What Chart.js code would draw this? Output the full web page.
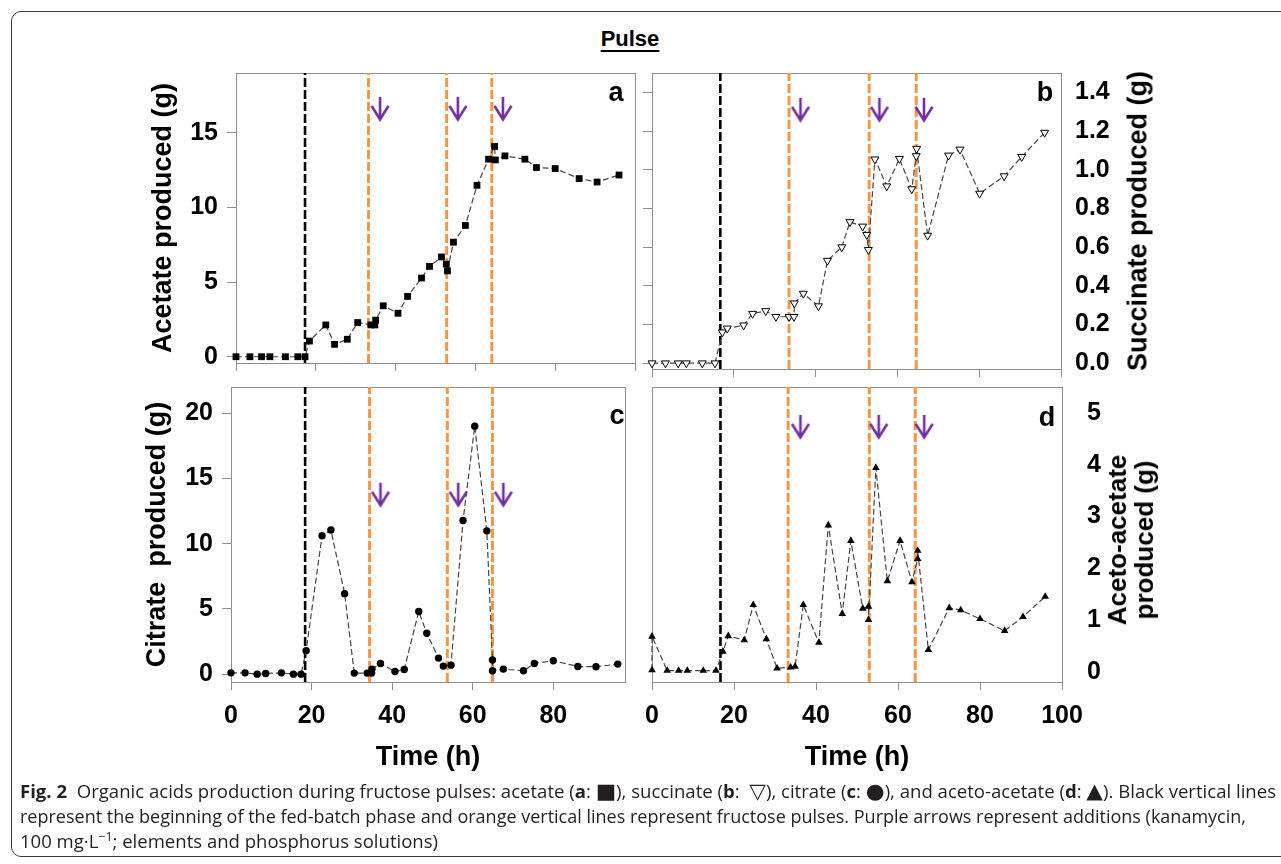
<!DOCTYPE html>
<html>
<head>
<meta charset="utf-8">
<script src="https://cdn.jsdelivr.net/npm/chart.js@4.4.1/dist/chart.umd.min.js"></script>
<style>
  body { margin: 0; width: 1281px; height: 864px; background: #fff; position: relative; overflow: hidden;
         font-family: 'Liberation Sans', Arial, sans-serif; color: #000; }
  canvas { position: absolute; }
  .box { position: absolute; left: 11px; top: 11px; width: 1400px; height: 844px;
         border: 1px solid #3c3c3c; border-radius: 10px; }
  .pulse { position: absolute; left: 580px; width: 100px; top: 28px; text-align: center;
           font-size: 22px; line-height: 22px; font-weight: bold;
           text-decoration: underline; text-decoration-thickness: 2px; text-underline-offset: 4px; }
  .letter { position: absolute; width: 40px; text-align: center; font-size: 27px; line-height: 27px; font-weight: bold; }
  .rtitle { position: absolute; font-weight: bold; white-space: nowrap; text-align: center;
            transform: translate(-50%, -50%) rotate(-90deg); }
  .caption { position: absolute; left: 20px; top: 779px; font-family: 'Open Sans', 'Noto Sans', sans-serif;
             font-size: 18px; line-height: 25px; color: #231f20; white-space: nowrap; }
  .caption span.line { display: inline-block; transform-origin: 0 50%; }
  .sym { font-family: 'DejaVu Sans', sans-serif; font-size: 21px; line-height: 0; }
</style>
</head>
<body>
<div class="box"></div>
<div class="pulse">Pulse</div>

<canvas id="panelA" width="506" height="392" style="left:140px;top:28px"></canvas>
<canvas id="panelB" width="485" height="398" style="left:640px;top:28px"></canvas>
<canvas id="panelC" width="496" height="448" style="left:140px;top:342px"></canvas>
<canvas id="panelD" width="483" height="448" style="left:627px;top:342px"></canvas>

<div class="letter" style="left:596px;top:79px">a</div>
<div class="letter" style="left:1025px;top:79px">b</div>
<div class="letter" style="left:597px;top:402px">c</div>
<div class="letter" style="left:1027px;top:404px">d</div>

<div class="rtitle" style="left:1138px;top:221px;font-size:27px;line-height:27px">Succinate produced (g)</div>
<div class="rtitle" style="left:1131px;top:540px;font-size:26px;line-height:27px">Aceto-acetate<br>produced (g)</div>

<div class="caption">
  <span class="line"><b>Fig. 2</b>&nbsp; Organic acids production during fructose pulses: acetate (<b>a</b>: <span class="sym">■</span>), succinate (<b>b</b>:&nbsp; <span class="sym">▽</span>), citrate (<b>c</b>: <span class="sym">●</span>), and aceto-acetate (<b>d</b>: <span class="sym">▲</span>). Black vertical lines</span><br>
  <span class="line">represent the beginning of the fed-batch phase and orange vertical lines represent fructose pulses. Purple arrows represent additions (kanamycin,</span><br>
  <span class="line">100 mg·L<sup style="font-size:12px;line-height:0">−1</sup>; elements and phosphorus solutions)</span>
</div>

<script>
// tick labels
const timeTicks = [0, 20, 40, 60, 80, 100];
const acetateTicks = [0, 5, 10, 15];
const succinateTicks = [0, 0.2, 0.4, 0.6, 0.8, 1.0, 1.2, 1.4];
const citrateTicks = [0, 5, 10, 15, 20];
const acetoTicks = [0, 1, 2, 3, 4, 5];

// a - acetate (g)
const acetateTime = [0, 3.5, 6.4, 8.5, 12.4, 15.5, 17.3, 18.4, 22.5, 24.7, 27.9, 30.5, 33.8, 34.8, 35.0, 36.9, 40.6, 43.0,
  46.5, 48.5, 51.5, 52.7, 53.0, 54.5, 57.5, 60.4, 63.3, 64.8, 65.0, 67.4, 72.4, 75.3, 80.0, 86.0, 90.5, 96.0];
const acetate = [0, 0, 0, 0, 0, 0, 0, 1.05, 2.13, 0.83, 1.17, 2.29, 2.13, 2.13, 2.45, 3.41, 2.91, 4.04,
  5.27, 6.05, 6.68, 6.2, 5.75, 7.67, 8.79, 11.48, 13.23, 14.08, 13.18, 13.45, 13.23, 12.67, 12.6, 11.93, 11.7, 12.17];

// b - succinate (g)
const succinateTime = [0, 3.3, 6.4, 8.4, 12.3, 15.4, 17.2, 18.4, 22.4, 24.6, 27.8, 30.3, 33.5, 34.7, 34.8, 37.0, 40.7, 42.9,
  46.4, 48.4, 51.5, 52.5, 52.9, 54.5, 57.4, 60.5, 63.5, 64.6, 64.7, 67.4, 72.5, 75.3, 80.1, 86.1, 90.4, 96.0];
const succinate = [0, 0, 0, 0, 0, 0, 0.16, 0.18, 0.196, 0.256, 0.27, 0.24, 0.24, 0.24, 0.31, 0.36, 0.295, 0.53,
  0.60, 0.73, 0.707, 0.664, 0.586, 1.054, 0.915, 1.057, 0.90, 1.071, 1.109, 0.66, 1.074, 1.105, 0.877, 0.967, 1.067, 1.192];

// c - citrate (g)
const citrateTime = [0, 3.5, 6.5, 8.6, 12.5, 15.5, 17.4, 18.65, 22.6, 24.8, 28.2, 30.6, 33.8, 34.9, 35.0, 37.1, 40.7, 43.0,
  46.6, 48.6, 51.5, 52.7, 54.6, 57.6, 60.5, 63.5, 64.9, 64.9, 67.6, 72.6, 75.3, 80.0, 86.1, 90.6, 96.0];
const citrate = [0.1, 0.1, 0, 0.05, 0.1, 0, 0, 1.8, 10.6, 11.05, 6.17, 0.08, 0.08, 0.08, 0.39, 0.82, 0.2, 0.36,
  4.8, 3.14, 1.23, 0.62, 0.69, 11.77, 19.0, 10.98, 1.08, 0.26, 0.39, 0.26, 0.82, 1.03, 0.59, 0.57, 0.77];

// d - aceto-acetate (g)
const acetoTime = [0, 0, 3.7, 6.5, 8.6, 12.5, 15.6, 17.3, 18.6, 22.5, 24.7, 27.9, 30.5, 33.8, 34.9, 36.9, 40.7, 43.0,
  46.4, 48.5, 51.4, 52.8, 52.8, 54.6, 57.4, 60.5, 63.4, 64.8, 64.8, 67.4, 72.5, 75.3, 80.0, 86.0, 90.5, 95.9];
const aceto = [0.03, 0.68, 0.02, 0.02, 0.02, 0.02, 0.02, 0.39, 0.69, 0.61, 1.29, 0.63, 0.065, 0.084, 0.1, 1.29, 0.56, 2.83,
  1.12, 2.53, 1.22, 1.26, 1.0, 3.94, 1.75, 2.53, 1.73, 2.18, 2.34, 0.42, 1.23, 1.19, 1.02, 0.79, 1.06, 1.45];

// events (h): start of fed-batch, fructose pulses, additions
const fedBatchStart = [17.3, 16.7, 18.4, 16.7];   // a, b, c, d
const pulsesA = [33.2, 52.8, 64.1];
const pulsesB = [33.5, 53.1, 64.6];
const pulsesC = [34.4, 53.7, 64.9];
const pulsesD = [33.2, 53.0, 64.2];
const additionsA = [36.1, 55.6, 66.9];
const additionsB = [36.3, 55.6, 66.5];
const additionsC = [37.1, 56.4, 67.6];
const additionsD = [36.2, 55.3, 66.4];

const FONT = "'Liberation Sans', Arial, sans-serif";
const tickFont = { family: FONT, size: 25, weight: 'bold' };
const titleFont = { family: FONT, size: 27, weight: 'bold' };
const GREY = '#8f8f8f';
const ORANGE = '#F79646';
const PURPLE = '#7030A0';

// purple down arrow used as point style
function arrowImage() {
  const c = document.createElement('canvas');
  c.width = 22; c.height = 26;
  const g = c.getContext('2d');
  g.strokeStyle = PURPLE;
  g.lineWidth = 2.6;
  g.beginPath(); g.moveTo(11, 1); g.lineTo(11, 23.5); g.stroke();
  g.beginPath(); g.moveTo(2.5, 10); g.lineTo(11, 23.5); g.lineTo(19.5, 10); g.stroke();
  return c;
}
const arrow = arrowImage();

// grey box round the plot area
const frame = {
  id: 'frame',
  beforeDatasetsDraw(chart) {
    const { ctx, chartArea: a } = chart;
    ctx.save();
    ctx.strokeStyle = GREY;
    ctx.lineWidth = 1;
    ctx.strokeRect(Math.round(a.left) + 0.5, Math.round(a.top) + 0.5,
      Math.round(a.right - a.left), Math.round(a.bottom - a.top));
    ctx.restore();
  }
};

function drawPanel(id, p) {
  const sets = [{
    data: p.time.map((t, i) => ({ x: t, y: p.values[i] })),
    showLine: true, borderColor: '#454545', borderWidth: 1.2, borderDash: [6, 3],
    pointStyle: p.marker, pointRotation: p.rotation || 0, pointRadius: p.radius,
    pointBackgroundColor: p.fill, pointBorderColor: '#000', pointBorderWidth: p.edge,
    clip: false, order: 0
  }, {
    data: p.arrows.map(t => ({ x: t, y: p.arrowLevel })),
    showLine: false, pointStyle: arrow, pointRadius: 10, clip: false, order: 1
  }];

  const lines = [[p.fed, '#000', 2.6]].concat(p.pulses.map(t => [t, ORANGE, 3]));
  lines.forEach(([t, col, w]) => sets.push({
    data: [{ x: t, y: p.yMin }, { x: t, y: p.yMax }],
    showLine: true, borderColor: col, borderWidth: w, borderDash: [9, 3], pointRadius: 0, order: 2
  }));

  const scales = {
    x: {
      type: 'linear', position: 'bottom', min: 0, max: p.xMax,
      afterBuildTicks: s => { s.ticks = timeTicks.filter(v => v <= s.max).map(v => ({ value: v })); },
      ticks: { display: p.timeLabels, font: tickFont, color: '#000', padding: 11, autoSkip: false, maxRotation: 0 },
      grid: { drawOnChartArea: false, drawTicks: true, tickLength: 8, color: GREY },
      border: { display: false },
      title: { display: p.timeLabels, text: 'Time (h)', font: titleFont, color: '#000', padding: { top: 0, bottom: 16 } },
      afterFit: s => { s.height = p.xHeight; }
    },
    y: {
      type: 'linear', position: p.side, min: p.yMin, max: p.yMax,
      afterBuildTicks: s => { s.ticks = p.yTicks.map(v => ({ value: v })); },
      ticks: { font: tickFont, color: '#000', padding: p.labelGap, callback: p.fmt || (v => String(v)) },
      grid: { display: p.side === 'left', drawOnChartArea: false, drawTicks: p.side === 'left', tickLength: 9, color: GREY },
      border: { display: false },
      title: { display: !!p.yTitle, text: p.yTitle, font: titleFont, color: '#000', padding: { top: p.titleGap || 0, bottom: 0 } },
      afterFit: s => { s.width = p.yWidth; }
    }
  };
  if (p.side === 'right') {
    scales.y2 = {
      type: 'linear', position: 'left', min: p.yMin, max: p.yMax,
      afterBuildTicks: s => { s.ticks = p.yTicks.map(v => ({ value: v })); },
      ticks: { display: false },
      grid: { display: p.leftMarks, drawOnChartArea: false, drawTicks: true, tickLength: 9, color: GREY },
      border: { display: false },
      afterFit: s => { s.width = p.leftWidth; }
    };
  }

  new Chart(document.getElementById(id), {
    type: 'scatter',
    data: { datasets: sets },
    options: {
      responsive: false, animation: false, events: [],
      layout: { padding: p.padding },
      plugins: { legend: { display: false }, tooltip: { enabled: false } },
      scales: scales
    },
    plugins: [frame]
  });
}

drawPanel('panelA', {
  time: acetateTime, values: acetate, marker: 'rect', radius: 4.8, fill: '#000', edge: 0,
  fed: fedBatchStart[0], pulses: pulsesA, arrows: additionsA, arrowLevel: 16.6,
  xMax: 100, yMin: -0.42, yMax: 19, yTicks: acetateTicks, side: 'left', labelGap: 9,
  yTitle: 'Acetate produced (g)', titleGap: 7, yWidth: 96, xHeight: 12, timeLabels: false,
  padding: { top: 45, right: 5, bottom: 45, left: 0 }
});

drawPanel('panelB', {
  time: succinateTime, values: succinate, marker: 'triangle', rotation: 180, radius: 4.6, fill: '#fff', edge: 1,
  fed: fedBatchStart[1], pulses: pulsesB, arrows: additionsB, arrowLevel: 1.31,
  xMax: 100, yMin: -0.03, yMax: 1.5, yTicks: succinateTicks, side: 'right', labelGap: 14, fmt: v => v.toFixed(1),
  leftMarks: true, leftWidth: 12, yWidth: 64, xHeight: 12, timeLabels: false,
  padding: { top: 45, right: 0, bottom: 45, left: 0 }
});

drawPanel('panelC', {
  time: citrateTime, values: citrate, marker: 'circle', radius: 3.7, fill: '#000', edge: 0,
  fed: fedBatchStart[2], pulses: pulsesC, arrows: additionsC, arrowLevel: 13.75,
  xMax: 97.8, yMin: -0.6, yMax: 22, yTicks: citrateTicks, side: 'left', labelGap: 9,
  yTitle: 'Citrate  produced (g)', titleGap: 1, yWidth: 91, xHeight: 108, timeLabels: true,
  padding: { top: 45, right: 7, bottom: 0, left: 0 }
});

drawPanel('panelD', {
  time: acetoTime, values: aceto, marker: 'triangle', radius: 4.4, fill: '#000', edge: 0,
  fed: fedBatchStart[3], pulses: pulsesD, arrows: additionsD, arrowLevel: 4.73,
  xMax: 100, yMin: -0.2, yMax: 5.5, yTicks: acetoTicks, side: 'right', labelGap: 25,
  leftMarks: false, leftWidth: 25, yWidth: 48, xHeight: 108, timeLabels: true,
  padding: { top: 45, right: 0, bottom: 0, left: 0 }
});

// fit each caption line to the width it has in the original
const captionWidths = [1256, 1226, 418];
document.querySelectorAll('.caption span.line').forEach((el, i) => {
  el.style.transform = 'scaleX(' + (captionWidths[i] / el.getBoundingClientRect().width) + ')';
});
</script>
</body>
</html>
